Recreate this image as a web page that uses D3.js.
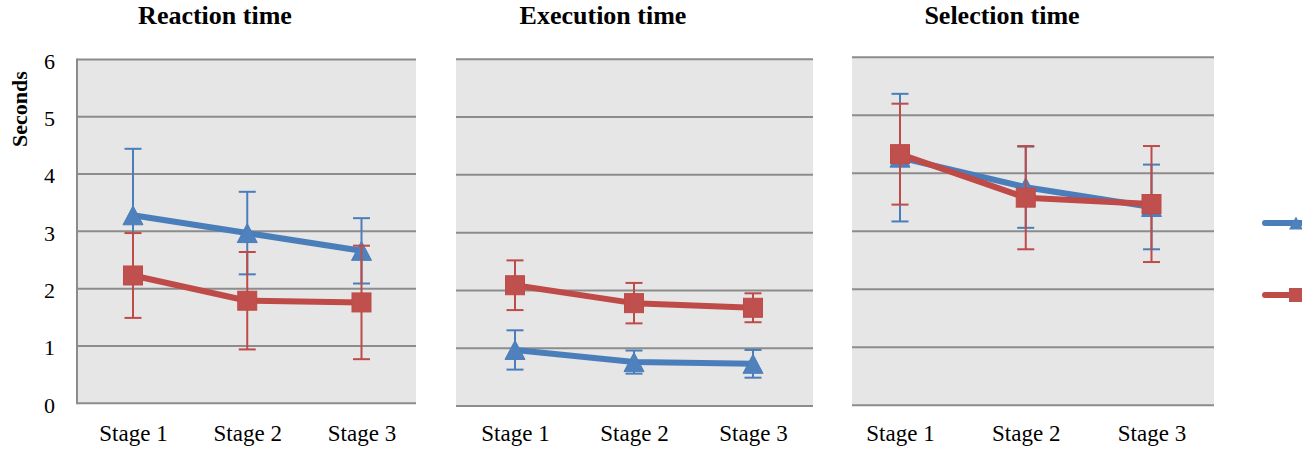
<!DOCTYPE html>
<html>
<head>
<meta charset="utf-8">
<script src="https://cdn.jsdelivr.net/npm/d3@7"></script>
<style>
  html, body { margin: 0; padding: 0; background: #ffffff; }
  svg { display: block; }
</style>
</head>
<body>
<svg id="chart" width="1302" height="450"></svg>
<script>
// ---------------- DATA ----------------
const stages = ["Stage 1", "Stage 2", "Stage 3"];
const panelTitles = ["Reaction time", "Execution time", "Selection time"];
const yTicks = [0, 1, 2, 3, 4, 5, 6];
const yAxisLabel = "Seconds";

// Series 1 (blue, triangles) means and error (±)
const reactionBlue = [3.28, 2.97, 2.66];
const reactionBlueErr = [1.16, 0.72, 0.57];
const executionBlue = [0.97, 0.76, 0.73];
const executionBlueErr = [0.34, 0.20, 0.24];
const selectionBlue = [4.27, 3.76, 3.42];
const selectionBlueErr = [1.10, 0.70, 0.73];

// Series 2 (red, squares) means and error (±)
const reactionRed = [2.23, 1.79, 1.76];
const reactionRedErr = [0.74, 0.85, 0.99];
const executionRed = [2.09, 1.78, 1.70];
const executionRedErr = [0.43, 0.35, 0.25];
const selectionRed = [4.33, 3.58, 3.47];
const selectionRedErr = [0.87, 0.89, 1.00];

// ---------------- LAYOUT / STYLE ----------------
const blueLine = "#4A7EBB", blueFill = "#4F81BD";
const redLine = "#BE4B48", redFill = "#C0504D";
const font = "'Liberation Serif', 'Times New Roman', serif";

const panels = [
  { title: panelTitles[0], titleX: 215, titleY: 24, left: 77, right: 416, top: 59.4, bottom: 403.3, c1: 133, c3: 361.5, axis: true,
    blue: reactionBlue, blueErr: reactionBlueErr, red: reactionRed, redErr: reactionRedErr },
  { title: panelTitles[1], titleX: 603, titleY: 24, left: 456, right: 813, top: 59.3, bottom: 406, c1: 515, c3: 753, axis: false,
    blue: executionBlue, blueErr: executionBlueErr, red: executionRed, redErr: executionRedErr },
  { title: panelTitles[2], titleX: 1002, titleY: 23.5, left: 852, right: 1214, top: 57.3, bottom: 405.3, c1: 900, c3: 1151.5, axis: false,
    blue: selectionBlue, blueErr: selectionBlueErr, red: selectionRed, redErr: selectionRedErr }
];

const svg = d3.select("#chart");

function trianglePath(w, h) {
  return `M0,${-h/2}L${w/2},${h/2}L${-w/2},${h/2}Z`;
}

panels.forEach(p => {
  const g = svg.append("g");
  const x = d3.scalePoint().domain(stages).range([p.c1, p.c3]);
  const y = d3.scaleLinear().domain([0, 6]).range([p.bottom, p.top]);

  // plot background
  g.append("rect")
    .attr("x", p.left).attr("y", y(6))
    .attr("width", p.right - p.left).attr("height", y(0) - y(6))
    .attr("fill", "#e6e6e6");

  // gridlines
  g.selectAll("line.grid").data(yTicks).enter().append("line")
    .attr("class", "grid")
    .attr("x1", p.left).attr("x2", p.right)
    .attr("y1", d => y(d)).attr("y2", d => y(d))
    .attr("stroke", "#8c8c8c").attr("stroke-width", 2);

  if (p.axis) {
    g.append("line")
      .attr("x1", p.left).attr("x2", p.left)
      .attr("y1", y(6) - 1).attr("y2", y(0) + 1)
      .attr("stroke", "#8c8c8c").attr("stroke-width", 2);

    const ya = g.append("g")
      .attr("transform", `translate(${p.left},0)`)
      .call(d3.axisLeft(y).tickValues(yTicks).tickSize(0).tickPadding(22).tickFormat(d3.format("d")));
    ya.select(".domain").remove();
    ya.attr("font-family", font);
    ya.selectAll("text")
      .attr("font-family", font).attr("font-size", 22).attr("fill", "#000")
      .attr("dy", "0.4em");

    svg.append("text")
      .attr("transform", "translate(27,109) rotate(-90)")
      .attr("text-anchor", "middle")
      .attr("font-family", font).attr("font-size", 22).attr("font-weight", "bold")
      .attr("fill", "#000")
      .text(yAxisLabel);
  }

  // x axis labels
  const xa = g.append("g")
    .attr("transform", `translate(0,441)`)
    .call(d3.axisBottom(x).tickSize(0));
  xa.select(".domain").remove();
  xa.attr("font-family", font);
  xa.selectAll("text")
    .attr("y", 0).attr("dy", 0)
    .attr("font-family", font).attr("font-size", 23).attr("fill", "#000");

  // title
  svg.append("text")
    .attr("x", p.titleX).attr("y", p.titleY)
    .attr("text-anchor", "middle")
    .attr("font-family", font).attr("font-size", 26).attr("font-weight", "bold")
    .attr("fill", "#000")
    .text(p.title);

  const series = [
    { vals: p.blue, errs: p.blueErr, line: blueLine, fill: blueFill, shape: "triangle" },
    { vals: p.red, errs: p.redErr, line: redLine, fill: redFill, shape: "square" }
  ];

  series.forEach(s => {
    const pts = stages.map((st, i) => ({ st, v: s.vals[i], e: s.errs[i] }));
    const sg = g.append("g");
    // error bars
    const eb = sg.selectAll("g.err").data(pts).enter().append("g");
    eb.append("line")
      .attr("x1", d => x(d.st)).attr("x2", d => x(d.st))
      .attr("y1", d => y(d.v + d.e)).attr("y2", d => y(d.v - d.e))
      .attr("stroke", s.line).attr("stroke-width", 2);
    [1, -1].forEach(sign => {
      eb.append("line")
        .attr("x1", d => x(d.st) - 8.5).attr("x2", d => x(d.st) + 8.5)
        .attr("y1", d => y(d.v + sign * d.e)).attr("y2", d => y(d.v + sign * d.e))
        .attr("stroke", s.line).attr("stroke-width", 2);
    });
    // line
    sg.append("path")
      .datum(pts)
      .attr("d", d3.line().x(d => x(d.st)).y(d => y(d.v)))
      .attr("fill", "none").attr("stroke", s.line).attr("stroke-width", 6)
      .attr("stroke-linejoin", "round").attr("stroke-linecap", "round");
    // markers
    if (s.shape === "triangle") {
      sg.selectAll("path.mk").data(pts).enter().append("path")
        .attr("class", "mk")
        .attr("transform", d => `translate(${x(d.st)},${y(d.v)})`)
        .attr("d", trianglePath(20, 19))
        .attr("fill", s.fill).attr("stroke", s.line).attr("stroke-width", 1);
    } else {
      sg.selectAll("rect.mk").data(pts).enter().append("rect")
        .attr("class", "mk")
        .attr("x", d => x(d.st) - 9.5).attr("y", d => y(d.v) - 9.5)
        .attr("width", 19).attr("height", 19)
        .attr("fill", s.fill).attr("stroke", s.line).attr("stroke-width", 1);
    }
  });
});

// legend (partially clipped at the right edge, as in the reference)
const legendItems = [
  { y: 223, line: blueLine, fill: blueFill, shape: "triangle" },
  { y: 295, line: redLine, fill: redFill, shape: "square" }
];
legendItems.forEach(it => {
  svg.append("line")
    .attr("x1", 1265).attr("x2", 1320)
    .attr("y1", it.y).attr("y2", it.y)
    .attr("stroke", it.line).attr("stroke-width", 6).attr("stroke-linecap", "round");
  if (it.shape === "triangle") {
    svg.append("path")
      .attr("transform", `translate(1296,${it.y})`)
      .attr("d", trianglePath(14, 13))
      .attr("fill", it.fill);
  } else {
    svg.append("rect")
      .attr("x", 1289).attr("y", it.y - 7)
      .attr("width", 14).attr("height", 14)
      .attr("fill", it.fill);
  }
});
</script>
</body>
</html>
